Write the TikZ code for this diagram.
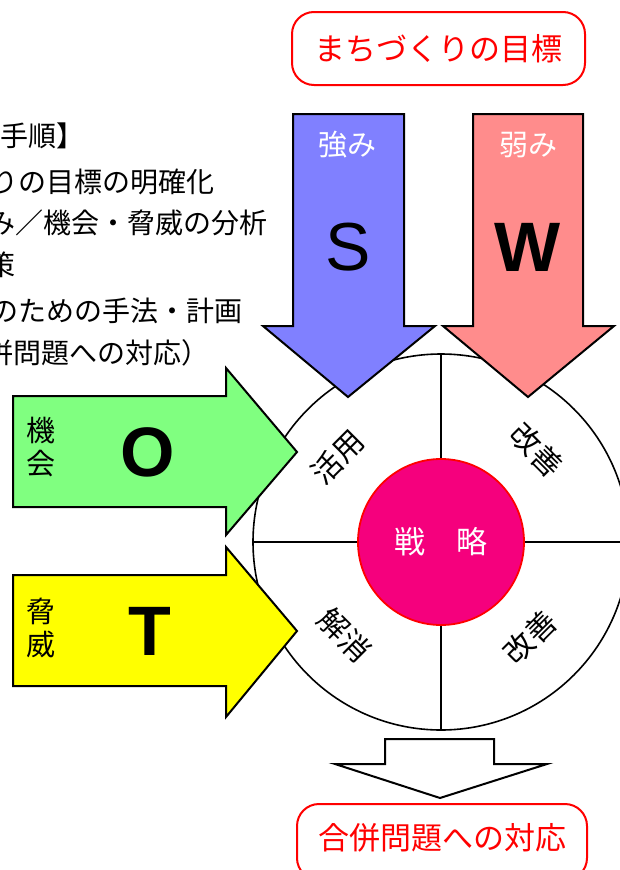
\documentclass[tikz,border=0pt]{standalone}
\usepackage{fontspec}
\setmainfont{Liberation Sans}
\newfontfamily\jp{Noto Sans CJK JP}
\definecolor{sblue}{HTML}{8080FF}
\definecolor{wred}{HTML}{FF8C8C}
\definecolor{ogreen}{HTML}{80FF80}
\definecolor{tyellow}{HTML}{FFFF00}
\definecolor{strat}{HTML}{F5007D}
\begin{document}
\begin{tikzpicture}[x=1pt,y=-1pt,
  arr/.style={draw=black,line width=2pt,line join=miter},
  seg/.style={draw=black,line width=1.6pt},
  goalbox/.style={draw=red,line width=2pt,rounded corners=22pt,fill=white,inner sep=0pt},
  redtxt/.style={text=red,font=\jp\fontsize{31}{31}\selectfont,inner sep=0pt},
  listtxt/.style={font=\jp\fontsize{28}{28}\selectfont,inner sep=0pt,anchor=west},
  wtxt/.style={text=white,font=\jp\fontsize{29}{29}\selectfont,inner sep=0pt},
  vtxt/.style={font=\jp\fontsize{29}{33}\selectfont,inner sep=0pt,align=center},
  big/.style={font=\fontsize{68}{68}\selectfont,inner sep=0pt},
  bigb/.style={font=\bfseries\fontsize{70}{70}\selectfont,inner sep=0pt},
  sect/.style={font=\jp\fontsize{30}{30}\selectfont,inner sep=0pt}]
\useasboundingbox (0,0) rectangle (620,870);
\clip (0,0) rectangle (620,870);

% left list text
\node[listtxt] (l1) at (0,136) {手順】};
\node[listtxt] (l2) at (-10,182) {りの目標の明確化};
\node[listtxt] (l3) at (-13,223) {み／機会・脅威の分析};
\node[listtxt] (l4) at (-13,265) {策};
\node[listtxt] (l5) at (-10,311) {のための手法・計画};
\node[listtxt] (l6) at (-15,353) {併問題への対応）};

% big circle
\coordinate (c) at (441,542);
\draw[seg,fill=white] (c) circle[radius=188pt];
\path (c) ++(0,-188) coordinate (ctop)
      (c) ++(0,188) coordinate (cbot)
      (c) ++(-188,0) coordinate (cleft)
      (c) ++(188,0) coordinate (cright);
\node[circle,minimum size=166pt,inner sep=0pt,fill=strat,draw=red,line width=1.8pt,
      text=white,font=\jp\fontsize{31}{31}\selectfont] (st) at (c) {戦　略};
\draw[seg] (ctop) -- (st.north);
\draw[seg] (st.south) -- (cbot);
\draw[seg] (cleft) -- (st.west);
\draw[seg] (st.east) -- (cright);

\node[sect,rotate=45] (q1) at (338,457) {活用};
\node[sect,rotate=-45] (q2) at (537,450) {改善};
\node[sect,rotate=-45] (q3) at (345,635) {解消};
\node[sect,rotate=45] (q4) at (530,637) {改善};

% S arrow
\draw[arr,fill=sblue] (293,114) -- (404,114) -- (404,326) -- (435,326) -- (348,397)
      -- (263,326) -- (293,326) -- cycle;
% W arrow
\draw[arr,fill=wred] (473,114) -- (583,114) -- (583,326) -- (614,326) -- (528,397)
      -- (443,326) -- (473,326) -- cycle;
% O arrow
\draw[arr,fill=ogreen] (13,396) -- (226,396) -- (226,368) -- (297,452) -- (226,535)
      -- (226,507) -- (13,507) -- cycle;
% T arrow
\draw[arr,fill=tyellow] (13,575) -- (226,575) -- (226,547) -- (297,631) -- (226,717)
      -- (226,686) -- (13,686) -- cycle;
% result arrow
\draw[arr,fill=white] (385,739) -- (494,739) -- (494,764) -- (547,764) -- (440,798)
      -- (335,764) -- (385,764) -- cycle;

\node[wtxt] (sl) at (347,145) {強み};
\node[wtxt] (wl) at (528,145) {弱み};
\node[big] (S) at (348,247) {S};
\node[bigb] (W) at (528,247) {W};
\node[vtxt] (ol) at (41,447) {機\\会};
\node[bigb] (O) at (148,452) {O};
\node[vtxt] (tl) at (41,628) {脅\\威};
\node[bigb] (T) at (150,631) {T};

% goal boxes
\node[goalbox,minimum width=293pt,minimum height=73pt] (goal) at (438.5,48.5) {};
\node[redtxt] (goalt) at (goal.center) {まちづくりの目標};
\node[goalbox,minimum width=290pt,minimum height=76pt] (res) at (442,842) {};
\node[redtxt] (rest) at (442,838) {合併問題への対応};
\end{tikzpicture}
\end{document}
